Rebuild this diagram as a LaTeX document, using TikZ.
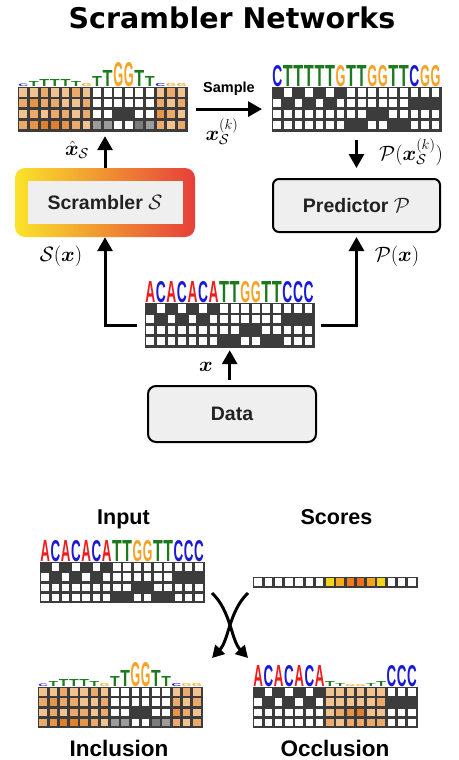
\documentclass[tikz,border=0pt]{standalone}
\usepackage[no-math]{fontspec}
\usepackage{bm}
\usetikzlibrary{arrows.meta,calc,positioning}
\newfontfamily\titlefont{DejaVu Sans}
\newfontfamily\labelfont{Liberation Sans}

\definecolor{colA}{HTML}{EE1C1C}
\definecolor{colC}{HTML}{1A1AD6}
\definecolor{colG}{HTML}{F5A326}
\definecolor{colT}{HTML}{1B7A1B}
\definecolor{hk}{HTML}{3C3C3C}
\definecolor{hw}{HTML}{FFFFFF}
\definecolor{hg}{HTML}{9C9C9C}
\definecolor{hd}{HTML}{7C7C7C}
\definecolor{oa}{HTML}{F1C390}
\definecolor{ob}{HTML}{EBAA6C}
\definecolor{oc}{HTML}{E69548}
\definecolor{od}{HTML}{E0802C}
\definecolor{sa}{HTML}{F3D61C}
\definecolor{sb}{HTML}{F4AB22}
\definecolor{sc}{HTML}{EF7D1E}
\definecolor{sd}{HTML}{EE6E1C}
\definecolor{se}{HTML}{F2A420}
\definecolor{boxgray}{HTML}{EFEFEF}
\definecolor{inkgray}{HTML}{222222}
\definecolor{scrY}{HTML}{FAE42A}
\definecolor{scrO}{HTML}{F5A53C}
\definecolor{scrR}{HTML}{E63F3A}

% one-hot grid: name, top-left corner, columns (row colours A/C/G/T)
\newcommand{\cellgrid}[3]{%
  \pgfmathsetlengthmacro{\gw}{16*\cw}%
  \pgfmathsetlengthmacro{\gh}{4*\ch}%
  \node[gridbox, minimum width=\gw, minimum height=\gh] (#1) at (#2) {};
  \edef\gridspec{#3}%
  \foreach \ra/\rb/\rc/\rd [count=\cx from 0] in \gridspec {
    \foreach \fc [count=\ry from 0] in {\ra,\rb,\rc,\rd}
      \fill[fill=\fc] ($(#1.north west)+(\cx*\cw+\gap,\ry*\ch+\gap)$) rectangle +(\cw-2*\gap,\ch-2*\gap);
  }%
}
% sequence logo on top of a grid: grid name, letter/height list
\newcommand{\seqlogo}[2]{%
  \pgfmathsetmacro{\lw}{\cw-0.6}%
  \edef\logospec{#2}%
  \foreach \lt/\lh [count=\cx from 0] in \logospec
    \node[logoletter, text=col\lt] (#1-l\cx) at ($(#1.north west)+(\cx*\cw+0.5*\cw,-0.3)$) {\resizebox{\lw pt}{\lh pt}{\lt}};
}

\def\hotinput{hk/hw/hw/hw, hw/hk/hw/hw, hk/hw/hw/hw, hw/hk/hw/hw, hk/hw/hw/hw, hw/hk/hw/hw, hk/hw/hw/hw, hw/hw/hw/hk, hw/hw/hw/hk, hw/hw/hk/hw, hw/hw/hk/hw, hw/hw/hw/hk, hw/hw/hw/hk, hw/hk/hw/hw, hw/hk/hw/hw, hw/hk/hw/hw}
\def\hotincl{oa/ob/oa/ob, oa/oc/ob/oc, ob/ob/oa/od, oa/ob/ob/od, oa/oa/ob/oc, ob/oa/oa/ob, oa/ob/ob/oa, hw/hw/hw/hg, hw/hw/hw/hg, hw/hw/hk/hw, hw/hw/hk/hw, hw/hw/hw/hd, hw/hw/hw/hg, oa/ob/oc/ob, ob/oa/ob/oa, oa/ob/oa/ob}
\def\hotoccl{hk/hw/hw/hw, hw/hk/hw/hw, hk/hw/hw/hw, hw/hk/hw/hw, hk/hw/hw/hw, hw/hk/hw/hw, hk/hw/hw/hw, oa/oa/oa/ob, oa/oa/ob/oa, oa/oa/oc/ob, oa/oa/od/ob, oa/oa/oa/ob, oa/ob/oa/ob, hw/hk/hw/hw, hw/hk/hw/hw, hw/hk/hw/hw}

\def\logoinput{A/21,C/21,A/21,C/21,A/21,C/21,A/21,T/21,T/21,G/21,G/21,T/21,T/21,C/21,C/21,C/21}
\def\logosample{C/21,T/21,T/21,T/21,T/21,T/21,G/21,T/21,T/21,G/21,G/21,T/21,T/21,C/21,G/21,G/21}
\def\logoincl{C/2.5,T/5,T/7,T/7,T/7,T/5,G/3,T/10,T/16,G/24,G/24,T/16,T/10,C/3,G/3,G/3}
\def\logooccl{A/21,C/21,A/21,C/21,A/21,C/21,A/21,T/5,T/3,G/2,G/2,T/3,T/5,C/21,C/21,C/21}

\begin{document}
\begin{tikzpicture}[x=1pt, y=-1pt,
    arr/.style={line width=3pt, -{Triangle[length=14pt,width=15pt]}},
    curvarr/.style={line width=3pt, -{Triangle[length=12pt,width=13pt]}},
    gridbox/.style={anchor=north west, inner sep=0, fill=hk, draw=hk, line width=0.6pt},
    logoletter/.style={anchor=south, inner sep=0, font=\labelfont\bfseries},
    boxlabel/.style={font=\labelfont\bfseries\fontsize{19.5}{23}\selectfont, text=inkgray},
    plainbox/.style={boxlabel, draw=black, line width=2pt, fill=boxgray, rounded corners=6pt},
    caption/.style={anchor=base, font=\labelfont\bfseries\fontsize{21.5}{25}\selectfont},
    mlabel/.style={inner sep=0, font=\fontsize{20}{24}\selectfont}]

  \useasboundingbox (0,0) rectangle (458,760);
  \fill[white] (0,0) rectangle (458,760);

  \node[anchor=base, font=\titlefont\bfseries\fontsize{28.5}{32}\selectfont] (title) at (232,29) {Scrambler Networks};

  % top part
  \def\cw{10.55}\def\ch{10.9}\def\gap{1.4}
  \cellgrid{tl}{18,87}{\hotincl}
  \seqlogo{tl}{\logoincl}
  \cellgrid{tr}{272,87}{\hotinput}
  \seqlogo{tr}{\logosample}
  \cellgrid{mid}{145,303}{\hotinput}
  \seqlogo{mid}{\logoinput}

  \node[minimum width=180pt, minimum height=69pt, rounded corners=10pt,
        left color=scrY, middle color=scrO, right color=scrR] (scrambler) at (105,202.5) {};
  \node[boxlabel, fill=boxgray, minimum width=155pt, minimum height=43pt] (scrlabel) at (scrambler) {Scrambler $\mathcal{S}$};
  \node[plainbox, minimum width=167pt, minimum height=53pt] (predictor) at (356.5,205.5) {Predictor $\mathcal{P}$};
  \node[plainbox, rounded corners=8pt, minimum width=168pt, minimum height=56pt] (data) at (232,414) {Data};

  \draw[arr, shorten >=5pt] (scrambler.north) -- (scrambler.north |- tl.south);
  \draw[arr, shorten <=9pt, shorten >=10pt] (tl.east) -- (tr.west);
  \draw[arr, shorten <=9pt, shorten >=10pt] (predictor.north |- tr.south) -- (predictor.north);
  \draw[arr, shorten <=8pt] (mid.west) -| (scrambler.south);
  \draw[arr, shorten <=7pt, shorten >=4pt] (mid.east) -| (predictor.south);
  \draw[arr, shorten <=5pt, shorten >=3pt] (mid.south |- data.north) -- (mid.south);

  \node[mlabel] (xhat) at (77,150) {$\hat{\bm{x}}_{\mathcal{S}}$};
  \node[font=\labelfont\bfseries\fontsize{14.5}{17}\selectfont, inner sep=0] (sample) at (229,89) {Sample};
  \node[mlabel] (xsk) at (222,132) {$\bm{x}_{\mathcal{S}}^{(k)}$};
  \node[mlabel] (pxsk) at (411,152) {$\mathcal{P}(\bm{x}_{\mathcal{S}}^{(k)})$};
  \node[mlabel] (sx) at (61,256) {$\mathcal{S}(\bm{x})$};
  \node[mlabel] (px) at (397,256) {$\mathcal{P}(\bm{x})$};
  \node[mlabel] (xin) at (206,367) {$\bm{x}$};

  % bottom part
  \def\cw{10.25}\def\ch{10.1}\def\gap{1.3}
  \node[caption] (inputlabel) at (123.5,524) {Input};
  \node[caption] (scorelabel) at (336.5,524) {Scores};
  \cellgrid{inp}{40,562}{\hotinput}
  \seqlogo{inp}{\logoinput}

  \node[gridbox, minimum width=164pt, minimum height=10pt] (scores) at (253,577) {};
  \foreach \fc [count=\cx from 0] in {hw,hw,hw,hw,hw,hw,hw,sa,sb,sc,sd,se,sa,hw,hw,hw}
    \fill[fill=\fc] ($(scores.north west)+(\cx*\cw+\gap,\gap)$) rectangle +(\cw-2*\gap,10-2*\gap);

  \coordinate (crossa) at (212,593);
  \coordinate (crossb) at (248,593);
  \coordinate (crossc) at (212,658);
  \coordinate (crossd) at (248,658);
  \draw[curvarr] (crossa) .. controls (231,611) and (231,640) .. (crossd);
  \draw[curvarr] (crossb) .. controls (229,611) and (229,640) .. (crossc);

  \cellgrid{inc}{38,687}{\hotincl}
  \seqlogo{inc}{\logoincl}
  \cellgrid{occ}{253,687}{\hotoccl}
  \seqlogo{occ}{\logooccl}
  \node[caption, font=\labelfont\bfseries\fontsize{22.5}{26}\selectfont] (inclabel) at (119,756) {Inclusion};
  \node[caption, font=\labelfont\bfseries\fontsize{22.5}{26}\selectfont] (occlabel) at (335,756) {Occlusion};
\end{tikzpicture}
\end{document}
